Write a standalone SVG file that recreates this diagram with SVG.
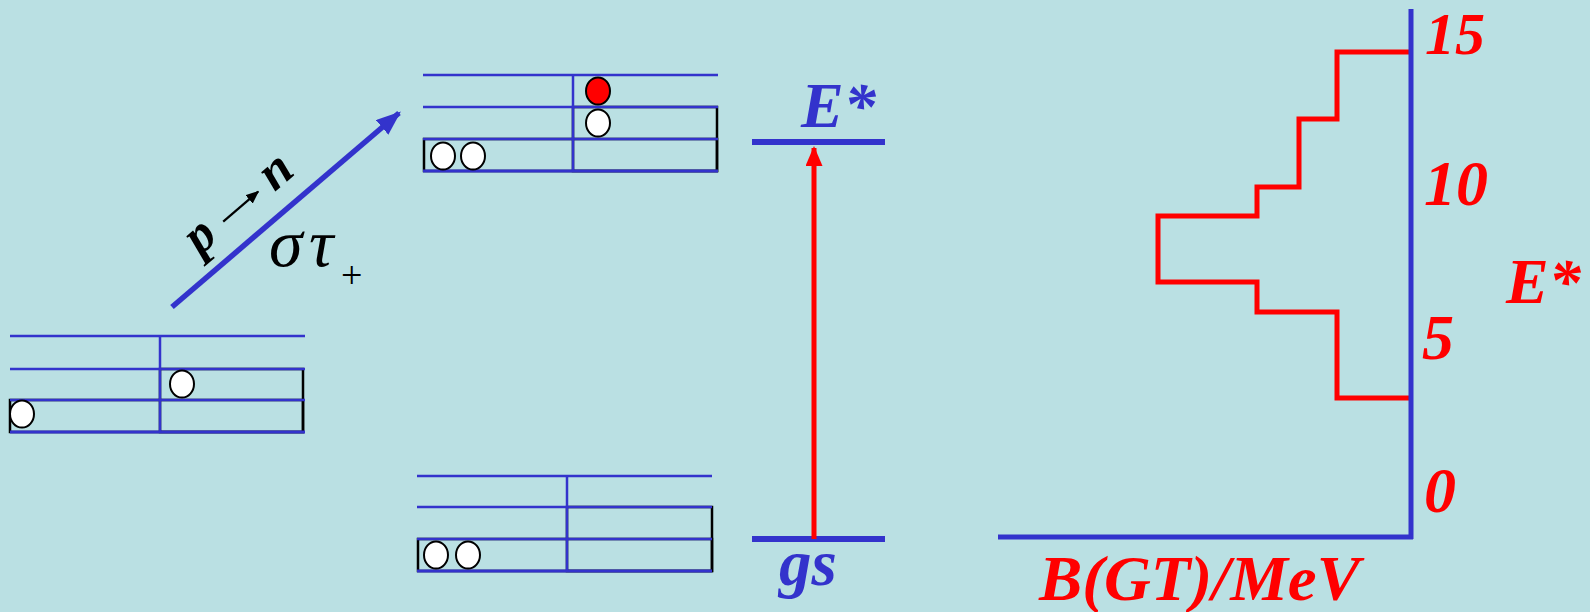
<svg xmlns="http://www.w3.org/2000/svg" width="1590" height="612" viewBox="0 0 1590 612">
<defs>
<style>
.lvl{stroke:#3333CC;stroke-width:2.5;fill:none}
.box{stroke:#000;stroke-width:2.5;fill:none}
.wc{fill:#fff;stroke:#000;stroke-width:2}
.rc{fill:#FF0000;stroke:#000;stroke-width:2}
.bi{font-family:"Liberation Serif","Times New Roman",serif;font-style:italic;font-weight:bold}
.it{font-family:"Liberation Serif","Times New Roman",serif;font-style:italic}
.blue{fill:#3333CC}
.red{fill:#FF0000}
</style>
<marker id="hb" viewBox="0 0 10 10" refX="9" refY="5" markerWidth="4.5" markerHeight="3.5" orient="auto" markerUnits="strokeWidth" preserveAspectRatio="none"><path d="M0,0 L10,5 L0,10 z" fill="#3333CC"/></marker>
<marker id="hr" viewBox="0 0 10 10" refX="9" refY="5" markerWidth="4" markerHeight="3.4" orient="auto" markerUnits="strokeWidth" preserveAspectRatio="none"><path d="M0,0 L10,5 L0,10 z" fill="#FF0000"/></marker>
<marker id="hk" viewBox="0 0 10 10" refX="9" refY="5" markerWidth="6" markerHeight="5" orient="auto" markerUnits="strokeWidth" preserveAspectRatio="none"><path d="M0,0 L10,5 L0,10 z" fill="#000"/></marker>
</defs>
<rect x="0" y="0" width="1590" height="612" fill="#BAE0E3"/>

<g id="initial-shell">
<rect class="box" x="10" y="400" width="293" height="32"/>
<rect class="box" x="160" y="369" width="143" height="63"/>
<line class="lvl" x1="10" y1="336" x2="305" y2="336"/>
<line class="lvl" x1="10" y1="369" x2="305" y2="369"/>
<line class="lvl" x1="10" y1="400" x2="305" y2="400"/>
<line class="lvl" x1="10" y1="432" x2="305" y2="432" style="stroke-width:3"/>
<line class="lvl" x1="160" y1="336" x2="160" y2="432"/>
<ellipse class="wc" cx="182" cy="384" rx="12" ry="13.5"/>
<ellipse class="wc" cx="22" cy="414" rx="12" ry="13.5"/>
</g>

<g id="excited-shell">
<rect class="box" x="424" y="139" width="293" height="32"/>
<rect class="box" x="573" y="107" width="144" height="64"/>
<line class="lvl" x1="423" y1="75" x2="718" y2="75"/>
<line class="lvl" x1="423" y1="107" x2="718" y2="107"/>
<line class="lvl" x1="423" y1="139" x2="718" y2="139"/>
<line class="lvl" x1="423" y1="171" x2="718" y2="171" style="stroke-width:3"/>
<line class="lvl" x1="573" y1="75" x2="573" y2="171"/>
<ellipse class="rc" cx="598" cy="91" rx="12" ry="13.5"/>
<ellipse class="wc" cx="598" cy="123" rx="12" ry="13.5"/>
<ellipse class="wc" cx="443" cy="156" rx="12" ry="13.5"/>
<ellipse class="wc" cx="473" cy="156" rx="12" ry="13.5"/>
</g>

<g id="ground-shell">
<rect class="box" x="418" y="539" width="294" height="32"/>
<rect class="box" x="567" y="507" width="145" height="64"/>
<line class="lvl" x1="417" y1="476" x2="712" y2="476"/>
<line class="lvl" x1="417" y1="507" x2="712" y2="507"/>
<line class="lvl" x1="417" y1="539" x2="712" y2="539"/>
<line class="lvl" x1="417" y1="571" x2="712" y2="571" style="stroke-width:3"/>
<line class="lvl" x1="567" y1="476" x2="567" y2="571"/>
<ellipse class="wc" cx="436" cy="555" rx="12" ry="13.5"/>
<ellipse class="wc" cx="468" cy="555" rx="12" ry="13.5"/>
</g>

<g id="level-Estar">
<line x1="752" y1="142" x2="885" y2="142" stroke="#3333CC" stroke-width="6"/>
<text class="bi blue" x="801" y="127" font-size="64">E*</text>
</g>

<g id="level-gs">
<line x1="752" y1="539" x2="885" y2="539" stroke="#3333CC" stroke-width="6"/>
<text class="bi blue" x="779" y="585" font-size="65">gs</text>
</g>

<g id="transition-label">
<g transform="translate(200,256) rotate(-40.6)">
<text class="bi" x="0" y="0" font-size="52" fill="#000">p</text>
<line x1="40" y1="-11" x2="86" y2="-11" stroke="#000" stroke-width="2.2" marker-end="url(#hk)"/>
<text class="bi" x="98" y="0" font-size="52" fill="#000">n</text>
</g>
<text class="it" x="269" y="266" font-size="68" fill="#000">σ</text>
<text class="it" x="309" y="266" font-size="68" fill="#000">τ</text>
<text x="341" y="288" font-size="38" fill="#000" font-family="Liberation Serif, serif">+</text>
</g>

<g id="chart">
<polyline points="1411,52 1337,52 1337,119 1299,119 1299,187 1257,187 1257,216 1158,216 1158,282 1257,282 1257,312 1337,312 1337,398 1411,398" fill="none" stroke="#FF0000" stroke-width="5"/>
<line x1="1411" y1="9" x2="1411" y2="539" stroke="#3333CC" stroke-width="5"/>
<line x1="998" y1="537" x2="1413" y2="537" stroke="#3333CC" stroke-width="5"/>
<text class="bi red" x="1425" y="54" font-size="60">15</text>
<text class="bi red" x="1424" y="205" font-size="64">10</text>
<text class="bi red" x="1422" y="359" font-size="64">5</text>
<text class="bi red" x="1424" y="512" font-size="64">0</text>
<text class="bi red" x="1506" y="303" font-size="64">E*</text>
<text class="bi red" x="1039" y="600" font-size="64" textLength="321" lengthAdjust="spacingAndGlyphs">B(GT)/MeV</text>
</g>

<g id="connectors">
<line x1="172" y1="307" x2="399" y2="113" stroke="#3333CC" stroke-width="5.5" marker-end="url(#hb)"/>
<line x1="814" y1="539" x2="814" y2="148" stroke="#FF0000" stroke-width="5" marker-end="url(#hr)"/>
</g>
</svg>
